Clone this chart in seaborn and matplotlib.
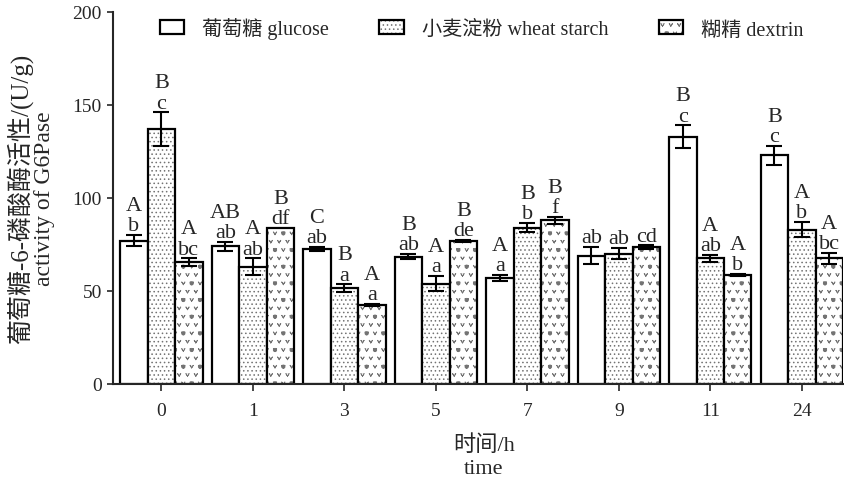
import warnings
warnings.filterwarnings("ignore")
import numpy as np
import pandas as pd
import matplotlib
matplotlib.use("Agg")
import matplotlib.pyplot as plt
import matplotlib.hatch as mhatch
import matplotlib.patches as mpatches
from matplotlib.path import Path
import seaborn as sns

# ---------------- data ----------------
times = ["0", "1", "3", "5", "7", "9", "11", "24"]
media = ["葡萄糖 glucose", "小麦淀粉 wheat starch", "糊精 dextrin"]

glucose = [77, 74, 72.5, 68.5, 57, 69, 133, 123]
glucose_err = [3, 2.5, 1, 1.5, 1.5, 4.5, 6, 5]
wheat = [137, 63, 51.5, 54, 84, 70, 67.5, 83]
wheat_err = [9, 4.5, 2, 4, 2.5, 3, 2, 4]
dextrin = [65.5, 84, 42.5, 77, 88, 73.5, 58.5, 67.5]
dextrin_err = [2, 0, 0.5, 0.5, 2, 1, 0.5, 3]

glucose_caps = ["A", "AB", "C", "B", "A", "", "B", "B"]
glucose_lows = ["b", "ab", "ab", "ab", "a", "ab", "c", "c"]
wheat_caps = ["B", "A", "B", "A", "B", "", "A", "A"]
wheat_lows = ["c", "ab", "a", "a", "b", "ab", "ab", "b"]
dextrin_caps = ["A", "B", "A", "B", "B", "", "A", "A"]
dextrin_lows = ["bc", "df", "a", "de", "f", "cd", "b", "bc"]

values = [glucose, wheat, dextrin]
errors = [glucose_err, wheat_err, dextrin_err]
caps = [glucose_caps, wheat_caps, dextrin_caps]
lows = [glucose_lows, wheat_lows, dextrin_lows]

df = pd.DataFrame({
    "time": times * 3,
    "medium": [m for m in media for _ in times],
    "value": glucose + wheat + dextrin,
})

# ---------------- custom "v" hatch ----------------
class VShapes(mhatch.Shapes):
    size = 0.38
    filled = False

    def __init__(self, hatch, density):
        self.num_rows = hatch.count('v') * density
        self.shape_vertices = np.array([[-0.5, 0.4], [0.0, -0.4], [0.5, 0.4]])
        self.shape_codes = np.array([Path.MOVETO, Path.LINETO, Path.LINETO],
                                    dtype=Path.code_type)
        super().__init__(hatch, density)

if VShapes not in mhatch._hatch_types:
    mhatch._hatch_types.append(VShapes)

# ---------------- style ----------------
sns.set_style("ticks")
plt.rcParams['font.family'] = ['Liberation Serif', 'Noto Sans CJK SC', 'DejaVu Sans']
plt.rcParams['hatch.linewidth'] = 0.6

fig = plt.figure(figsize=(8.45, 4.81), dpi=100)
ax = fig.add_axes([0.1337, 0.1996, 0.8639, 0.7734])

sns.barplot(data=df, x="time", y="value", hue="medium", order=times,
            hue_order=media, width=0.9, errorbar=None,
            palette=["white"] * 3, saturation=1, edgecolor="black",
            linewidth=1.6, legend=False, ax=ax)

hatches = [None, "....", "vv."]
hatch_col = (0.45, 0.45, 0.45, 1)
for cont, h in zip(ax.containers, hatches):
    for bar in cont:
        if h:
            bar.set_hatch(h)
            bar._hatch_color = hatch_col

for cont, vals, errs, cp, lw in zip(ax.containers, values, errors, caps, lows):
    for bar, v, e, c, l in zip(cont, vals, errs, cp, lw):
        x = bar.get_x() + bar.get_width() / 2
        if e > 0:
            ax.errorbar(x, v, yerr=e, fmt="none", ecolor="black",
                        elinewidth=1.5, capsize=5.5, capthick=1.5, zorder=5)
        top = v + e
        ax.annotate(l, (x, top), xytext=(0, 3.5), textcoords="offset points",
                    ha="center", va="baseline", fontsize=16)
        if c:
            ax.annotate(c, (x, top), xytext=(0, 18), textcoords="offset points",
                        ha="center", va="baseline", fontsize=16)

ax.set_ylim(0, 200)
ax.set_yticks([0, 50, 100, 150, 200])
ax.set_xlim(-0.53, 7.45)
ax.tick_params(axis="both", labelsize=14, width=1.2, direction="out")
ax.tick_params(axis="y", length=4, pad=4)
ax.tick_params(axis="x", length=5, pad=8)
for s in ["left", "bottom"]:
    ax.spines[s].set_linewidth(1.5)
sns.despine(ax=ax)

ax.set_xlabel("时间/h\ntime", fontsize=16, linespacing=1.3)
ax.xaxis.set_label_coords(0.508, -0.135)

ax.set_ylabel("activity of G6Pase", fontsize=17)
ax.yaxis.set_label_coords(-0.08, 0.5)
ax.text(-0.128, 0.5, "葡萄糖-6-磷酸酶活性/(U/g)", transform=ax.transAxes,
        rotation=90, ha="center", va="center", fontsize=18, clip_on=False)

handles = []
for h in hatches:
    p = mpatches.Patch(facecolor="white", edgecolor="black", linewidth=1.6,
                       hatch=h)
    if h:
        p._hatch_color = hatch_col
    handles.append(p)
ax.legend(handles, media, loc="center", bbox_to_anchor=(0.505, 0.956), ncol=3,
          frameon=False, fontsize=14.5, handlelength=1.2, handleheight=0.7,
          handletextpad=0.9, columnspacing=2.5)

fig.savefig("out.png", dpi=100)
